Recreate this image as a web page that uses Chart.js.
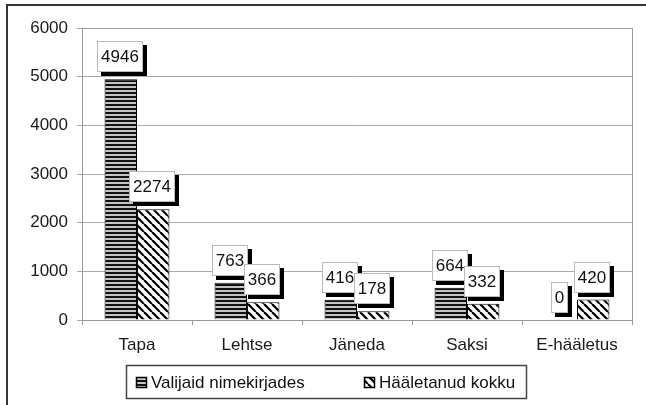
<!DOCTYPE html>
<html><head><meta charset="utf-8">
<script src="https://cdn.jsdelivr.net/npm/chart.js@4"></script>
<style>html,body{margin:0;padding:0;background:#fff}#wrap{width:646px;height:405px;position:relative}</style>
</head><body><div id="wrap"><canvas id="c" width="646" height="405"></canvas></div>
<script>
const categories = ['Tapa', 'Lehtse', 'Jäneda', 'Saksi', 'E-hääletus'];
const seriesNames = ['Valijaid nimekirjades', 'Hääletanud kokku'];
const voters = [4946, 763, 416, 664, 0];
const voted = [2274, 366, 178, 332, 420];
const yTicks = [0, 1000, 2000, 3000, 4000, 5000, 6000];

const FONT = '"Liberation Sans", Arial, Helvetica, sans-serif';

function stripePattern() {
  const c = document.createElement('canvas'); c.width = 4; c.height = 4;
  const g = c.getContext('2d');
  g.fillStyle = '#c4c4c4'; g.fillRect(0, 0, 4, 4);
  g.fillStyle = '#111'; g.fillRect(0, 0, 4, 2);
  return g.createPattern(c, 'repeat');
}
function diagPattern() {
  const s = 8;
  const c = document.createElement('canvas'); c.width = s; c.height = s;
  const g = c.getContext('2d');
  g.fillStyle = '#fff'; g.fillRect(0, 0, s, s);
  g.strokeStyle = '#000'; g.lineWidth = 2.2;
  for (const x0 of [-s, 0, s]) { g.beginPath(); g.moveTo(x0, 0); g.lineTo(x0 + s, s); g.stroke(); }
  return g.createPattern(c, 'repeat');
}
const pats = [stripePattern(), diagPattern()];

const decor = {
  id: 'decor',
  beforeDraw(chart) {
    const ctx = chart.ctx;
    ctx.save();
    ctx.fillStyle = '#fff'; ctx.fillRect(0, 0, chart.width, chart.height);
    ctx.restore();
  },
  afterDraw(chart) {
    const ctx = chart.ctx, a = chart.chartArea;
    ctx.save();
    ctx.strokeStyle = '#999'; ctx.lineWidth = 1;
    ctx.beginPath();
    ctx.moveTo(a.left, a.top + 0.5); ctx.lineTo(a.right + 0.5, a.top + 0.5);
    ctx.lineTo(a.right + 0.5, a.bottom + 5);
    ctx.stroke();
    ctx.strokeStyle = '#333'; ctx.lineWidth = 2;
    ctx.beginPath();
    ctx.moveTo(646, 5); ctx.lineTo(7, 5); ctx.lineTo(7, 405);
    ctx.stroke();
    ctx.strokeStyle = '#444'; ctx.lineWidth = 1.5;
    ctx.strokeRect(126.5, 365.5, 400, 33);
    const items = [{ x: 136 }, { x: 364 }];
    ctx.font = '17px ' + FONT; ctx.textBaseline = 'middle'; ctx.textAlign = 'left';
    chart.data.datasets.forEach((ds, i) => {
      const ix = items[i].x, iy = 377;
      ctx.fillStyle = pats[i]; ctx.fillRect(ix, iy, 11, 11);
      ctx.strokeStyle = '#000'; ctx.lineWidth = 1.5; ctx.strokeRect(ix + 0.5, iy + 0.5, 10, 10);
      ctx.fillStyle = '#111';
      ctx.fillText(ds.label, ix + 15, 383);
    });
    ctx.restore();
  },
  afterDatasetsDraw(chart) {
    const ctx = chart.ctx;
    ctx.save();
    ctx.font = '17px ' + FONT;
    const n = chart.data.labels.length;
    for (let i = 0; i < n; i++) {
      chart.data.datasets.forEach((ds, di) => {
        const el = chart.getDatasetMeta(di).data[i];
        const txt = String(ds.data[i]);
        const w = Math.round(ctx.measureText(txt).width + 8);
        const h = 31;
        const x = Math.round(el.x - 1 - w / 2);
        const y = Math.round(el.y - 7 - h);
        ctx.fillStyle = '#000'; ctx.fillRect(x + 4, y + 4, w, h);
        ctx.fillStyle = '#fff'; ctx.fillRect(x, y, w, h);
        ctx.strokeStyle = '#bbb'; ctx.lineWidth = 1; ctx.strokeRect(x + 0.5, y + 0.5, w - 1, h - 1);
        ctx.fillStyle = '#111'; ctx.textAlign = 'center'; ctx.textBaseline = 'middle';
        ctx.fillText(txt, x + w / 2, y + h / 2 + 1);
      });
    }
    ctx.restore();
  }
};

new Chart(document.getElementById('c'), {
  type: 'bar',
  data: {
    labels: categories,
    datasets: [
      { label: seriesNames[0], data: voters, backgroundColor: pats[0], borderColor: '#000', borderWidth: 1 },
      { label: seriesNames[1], data: voted, backgroundColor: pats[1], borderColor: '#000', borderWidth: 1 }
    ]
  },
  options: {
    responsive: false,
    animation: false,
    devicePixelRatio: 1,
    layout: { padding: { top: 28, right: 14, left: 0, bottom: 0 } },
    datasets: { bar: { categoryPercentage: 0.59, barPercentage: 1 } },
    plugins: { legend: { display: false }, tooltip: { enabled: false } },
    scales: {
      x: {
        afterFit(s) { s.height = 85; },
        grid: { drawOnChartArea: false, drawTicks: true, tickLength: 5, color: '#999', offset: true },
        border: { color: '#999' },
        ticks: { font: { size: 17, family: FONT }, color: '#1a1a1a', padding: 10, maxRotation: 0 }
      },
      y: {
        min: 0, max: 6000,
        afterFit(s) { s.width = 82; },
        afterBuildTicks(s) { s.ticks = yTicks.map(v => ({ value: v })); },
        grid: { color: '#aaa', tickLength: 5 },
        border: { color: '#999' },
        ticks: { font: { size: 17, family: FONT }, color: '#1a1a1a', padding: 9, callback: v => String(v) }
      }
    }
  },
  plugins: [decor]
});
</script>
</body></html>
